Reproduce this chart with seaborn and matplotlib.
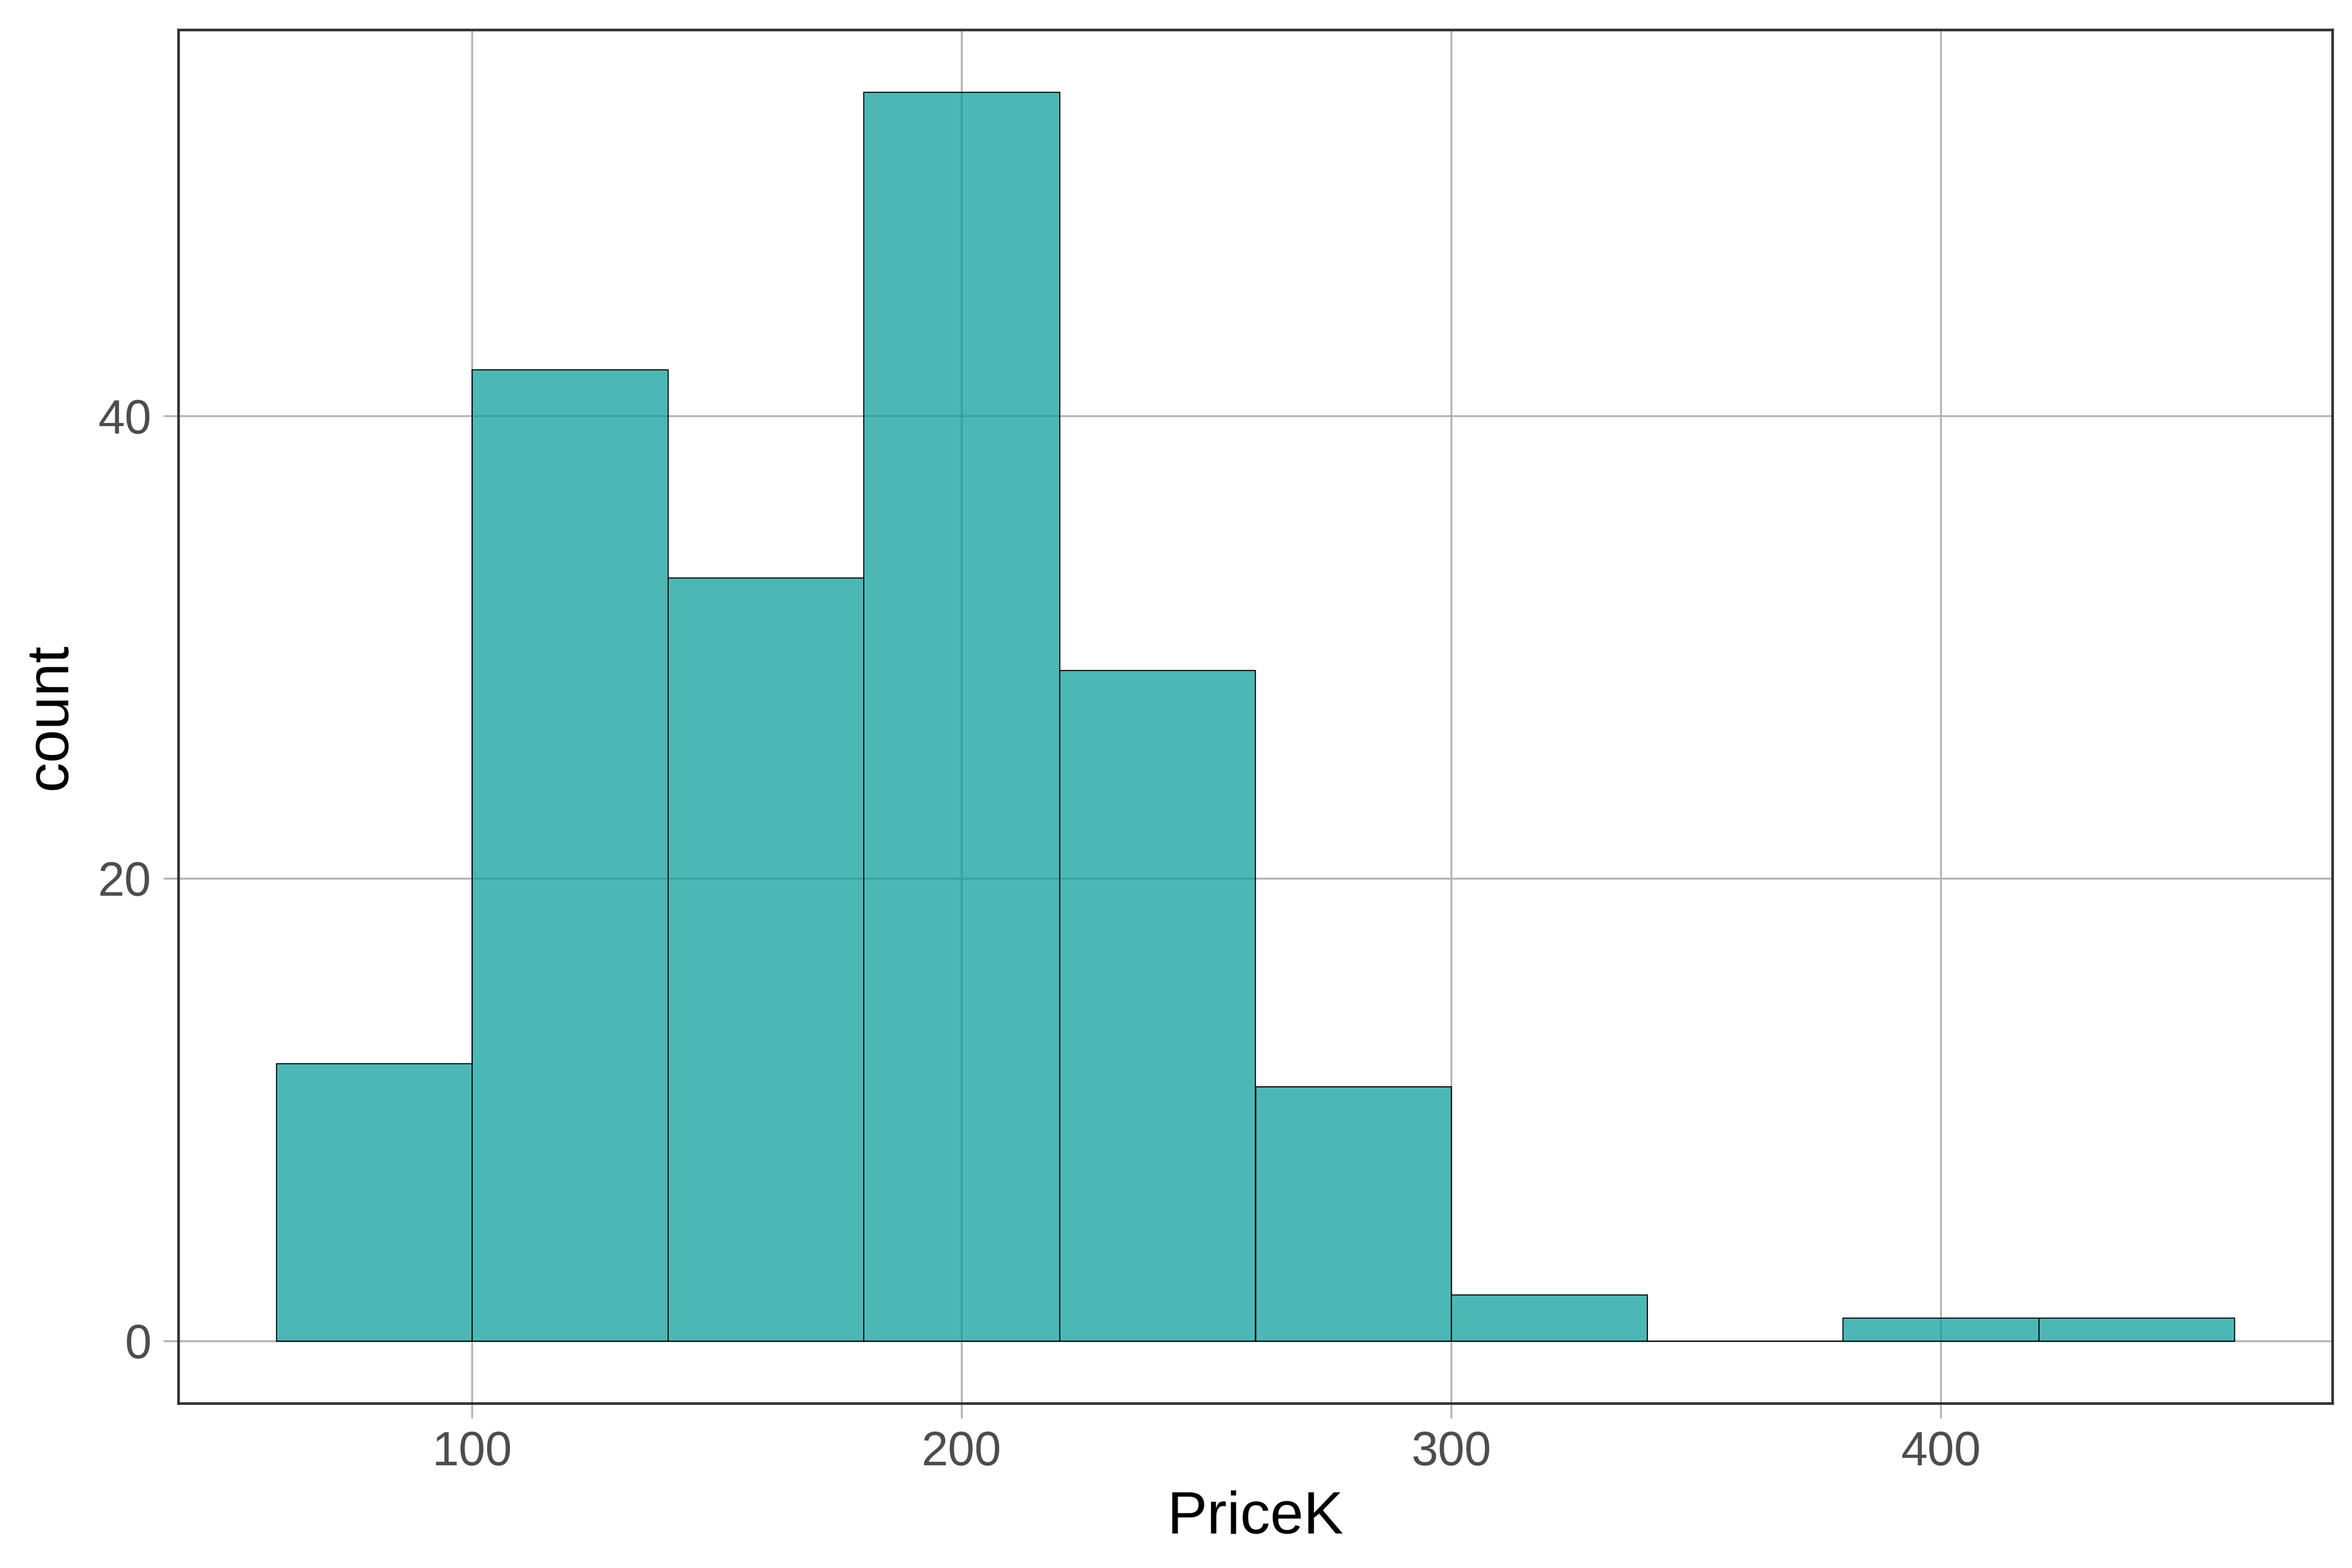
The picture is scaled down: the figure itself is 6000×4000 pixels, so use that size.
import matplotlib
matplotlib.use("Agg")
import matplotlib.pyplot as plt
import seaborn as sns
import numpy as np

# histogram bins (PriceK, width 40) and their counts
bin_edges = [60, 100, 140, 180, 220, 260, 300, 340, 380, 420, 460]
counts = [12, 42, 33, 54, 29, 11, 2, 0, 1, 1]
x_ticks = [100, 200, 300, 400]
y_ticks = [0, 20, 40]

bin_mids = [(a + b) / 2 for a, b in zip(bin_edges[:-1], bin_edges[1:])]

sns.set_theme(style="white")
plt.rcParams['font.family'] = ['Liberation Sans', 'DejaVu Sans']

fig, ax = plt.subplots(figsize=(15, 10), dpi=400)
fig.subplots_adjust(left=0.0758, right=0.9917, top=0.981, bottom=0.105)

sns.histplot(
    x=bin_mids,
    weights=counts,
    bins=bin_edges,
    color=(0 / 255, 155 / 255, 152 / 255),
    alpha=0.7,
    edgecolor='black',
    linewidth=0.5,
    ax=ax,
)

ax.set_xlim(40, 480)
ax.set_ylim(-2.7, 56.7)
ax.set_xticks(x_ticks)
ax.set_yticks(y_ticks)

ax.set_axisbelow(True)
ax.grid(True, color='#b3b3b3', linewidth=0.85)

for s in ax.spines.values():
    s.set_visible(True)
    s.set_color('#333333')
    s.set_linewidth(1.2)

ax.tick_params(axis='both', length=6.9, width=0.85, color='#b3b3b3',
               labelsize=22, labelcolor='#4d4d4d', pad=5.5,
               bottom=True, left=True)

ax.set_xlabel('PriceK', fontsize=27.5, color='black', labelpad=7)
ax.set_ylabel('count', fontsize=27.5, color='black', labelpad=9)

fig.savefig('out.png', dpi=400)
